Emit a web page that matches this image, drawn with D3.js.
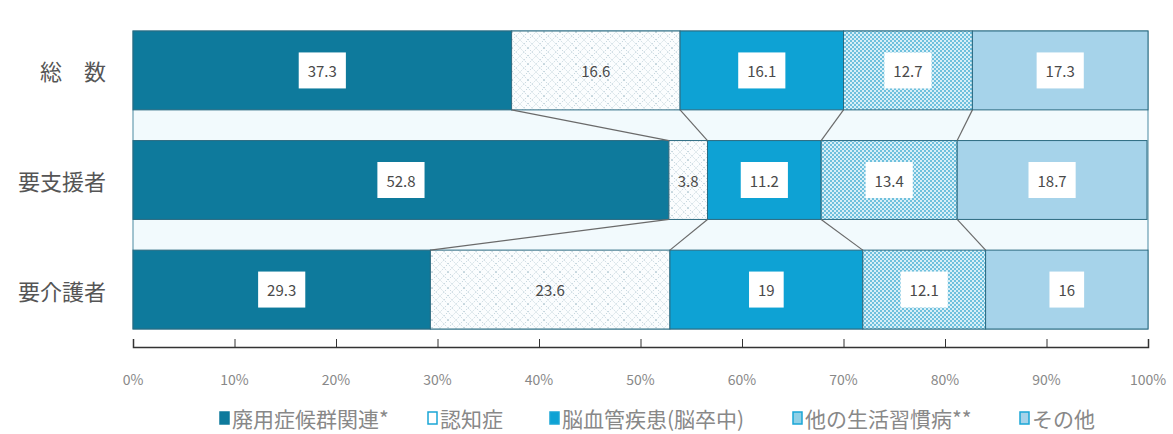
<!DOCTYPE html>
<html>
<head>
<meta charset="utf-8">
<script src="https://cdn.jsdelivr.net/npm/d3@7"></script>
<style>
  body { margin: 0; background: #fff; }
  svg { font-family: "Noto Sans CJK JP", "Noto Sans", sans-serif; }
</style>
</head>
<body>
<div id="chart"></div>
<script>
// data
var categories = ["総　数", "要支援者", "要介護者"];
var seriesNames = ["廃用症候群関連*", "認知症", "脳血管疾患(脳卒中)", "他の生活習慣病**", "その他"];
var series1 = [37.3, 52.8, 29.3];
var series2 = [16.6, 3.8, 23.6];
var series3 = [16.1, 11.2, 19];
var series4 = [12.7, 13.4, 12.1];
var series5 = [17.3, 18.7, 16];
var tickValues = [0, 10, 20, 30, 40, 50, 60, 70, 80, 90, 100];

window.onload = () => {
  var width = 1173, height = 434;
  var margin = { left: 133, right: 25, top: 31, bottom: 105 };

  var svg = d3.select("#chart").append("svg")
    .attr("width", width)
    .attr("height", height);

  // fills
  var defs = svg.append("defs");
  var p2 = defs.append("pattern").attr("id", "pat2")
    .attr("patternUnits", "userSpaceOnUse").attr("width", 16).attr("height", 16);
  p2.append("rect").attr("width", 16).attr("height", 16).attr("fill", "#fbfdfe");
  p2.append("path").attr("d", "M0,8 L8,0 L16,8 L8,16 Z M0,0 L16,16 M16,0 L0,16")
    .attr("fill", "none").attr("stroke", "#b9cdd6").attr("stroke-width", 0.8)
    .attr("stroke-dasharray", "1.5,1.5");

  var p4 = defs.append("pattern").attr("id", "pat4")
    .attr("patternUnits", "userSpaceOnUse").attr("width", 4).attr("height", 4);
  p4.append("rect").attr("width", 4).attr("height", 4).attr("fill", "#6fc0dd");
  p4.append("rect").attr("width", 2).attr("height", 2).attr("fill", "#d8eff7");
  p4.append("rect").attr("x", 2).attr("y", 2).attr("width", 2).attr("height", 2).attr("fill", "#d8eff7");

  var fills = ["#0e7a9c", "url(#pat2)", "#0ea2d4", "url(#pat4)", "#a6d3ea"];
  var legendFills = ["#0e7a9c", "#ffffff", "#0ea2d4", "#8fd0e6", "#a6d3ea"];

  var x = d3.scaleLinear().domain([0, 100]).range([margin.left, width - margin.right]);
  var y = d3.scaleBand().domain(categories)
    .range([margin.top, 329])
    .paddingInner(0.28).paddingOuter(0);

  var allSeries = [series1, series2, series3, series4, series5];
  var rows = categories.map((c, i) => {
    var acc = 0;
    return allSeries.map((s, k) => {
      var seg = { cat: c, k: k, v: s[i], x0: acc, x1: acc + s[i] };
      acc += s[i];
      return seg;
    });
  });

  // plot background box
  svg.append("rect")
    .attr("x", x(0)).attr("y", y.range()[0])
    .attr("width", x(100) - x(0))
    .attr("height", y.range()[1] - y.range()[0])
    .attr("fill", "#f2fafd")
    .attr("stroke", "#4a8aa2").attr("stroke-width", 1);

  // bars
  var g = svg.append("g");
  rows.forEach(r => {
    g.selectAll(null).data(r).enter().append("rect")
      .attr("x", d => x(d.x0))
      .attr("y", d => y(d.cat))
      .attr("width", d => x(d.x1) - x(d.x0))
      .attr("height", y.bandwidth())
      .attr("fill", d => fills[d.k])
      .attr("stroke", "#2b6a80").attr("stroke-width", 1);
  });

  // series lines between bars
  for (var i = 0; i < categories.length - 1; i++) {
    var yTop = y(categories[i]) + y.bandwidth();
    var yBot = y(categories[i + 1]);
    for (var k = 0; k < 4; k++) {
      svg.append("line")
        .attr("x1", x(rows[i][k].x1)).attr("y1", yTop)
        .attr("x2", x(rows[i + 1][k].x1)).attr("y2", yBot)
        .attr("stroke", "#6a6a6a").attr("stroke-width", 1.2);
    }
  }

  // value labels
  rows.forEach(r => {
    r.forEach(d => {
      var cx = (x(d.x0) + x(d.x1)) / 2;
      var cy = y(d.cat) + y.bandwidth() / 2;
      var t = svg.append("text")
        .attr("x", cx).attr("y", cy)
        .attr("text-anchor", "middle").attr("dominant-baseline", "central")
        .attr("font-size", 15).attr("fill", "#4a4a4a")
        .text(d.v);
      var bb = t.node().getBBox();
      var padX = 9;
      svg.insert("rect", "text:last-of-type")
        .attr("x", bb.x - padX).attr("y", cy - 18)
        .attr("width", bb.width + padX * 2).attr("height", 36)
        .attr("fill", d.k === 1 ? "none" : "#fff");
      t.raise();
    });
  });

  // category labels
  svg.selectAll(".cat").data(categories).enter().append("text")
    .attr("x", 106)
    .attr("y", d => y(d) + y.bandwidth() / 2)
    .attr("text-anchor", "end").attr("dominant-baseline", "central")
    .attr("font-size", 22).attr("fill", "#555")
    .text(d => d);

  // axis
  var axisY = 347;
  var axis = svg.append("g")
    .attr("transform", "translate(0," + axisY + ")")
    .call(d3.axisTop(x).tickValues(tickValues).tickSize(8).tickFormat(() => ""));
  axis.select(".domain").attr("stroke", "#333").attr("stroke-width", 1.5);
  axis.selectAll(".tick line").attr("stroke", "#333");

  svg.selectAll(".tl").data(tickValues).enter().append("text")
    .attr("x", d => x(d)).attr("y", 379)
    .attr("text-anchor", "middle").attr("dominant-baseline", "central")
    .attr("font-size", 14).attr("fill", "#888")
    .text(d => d + "%");

  // legend
  var legendX = [220, 428, 550, 793, 1020];
  var lg = svg.selectAll(".lg").data(seriesNames).enter().append("g")
    .attr("transform", (d, i) => "translate(" + legendX[i] + ",418)");
  lg.append("rect")
    .attr("x", 0).attr("y", -6).attr("width", 9).attr("height", 12)
    .attr("fill", (d, i) => legendFills[i])
    .attr("stroke", (d, i) => i === 0 ? "#0e7a9c" : "#1aa6d6").attr("stroke-width", 1.5);
  lg.append("text")
    .attr("x", 12).attr("y", 0).attr("dominant-baseline", "central")
    .attr("font-size", 21).attr("fill", "#888")
    .text(d => d);
};
</script>
</body>
</html>
